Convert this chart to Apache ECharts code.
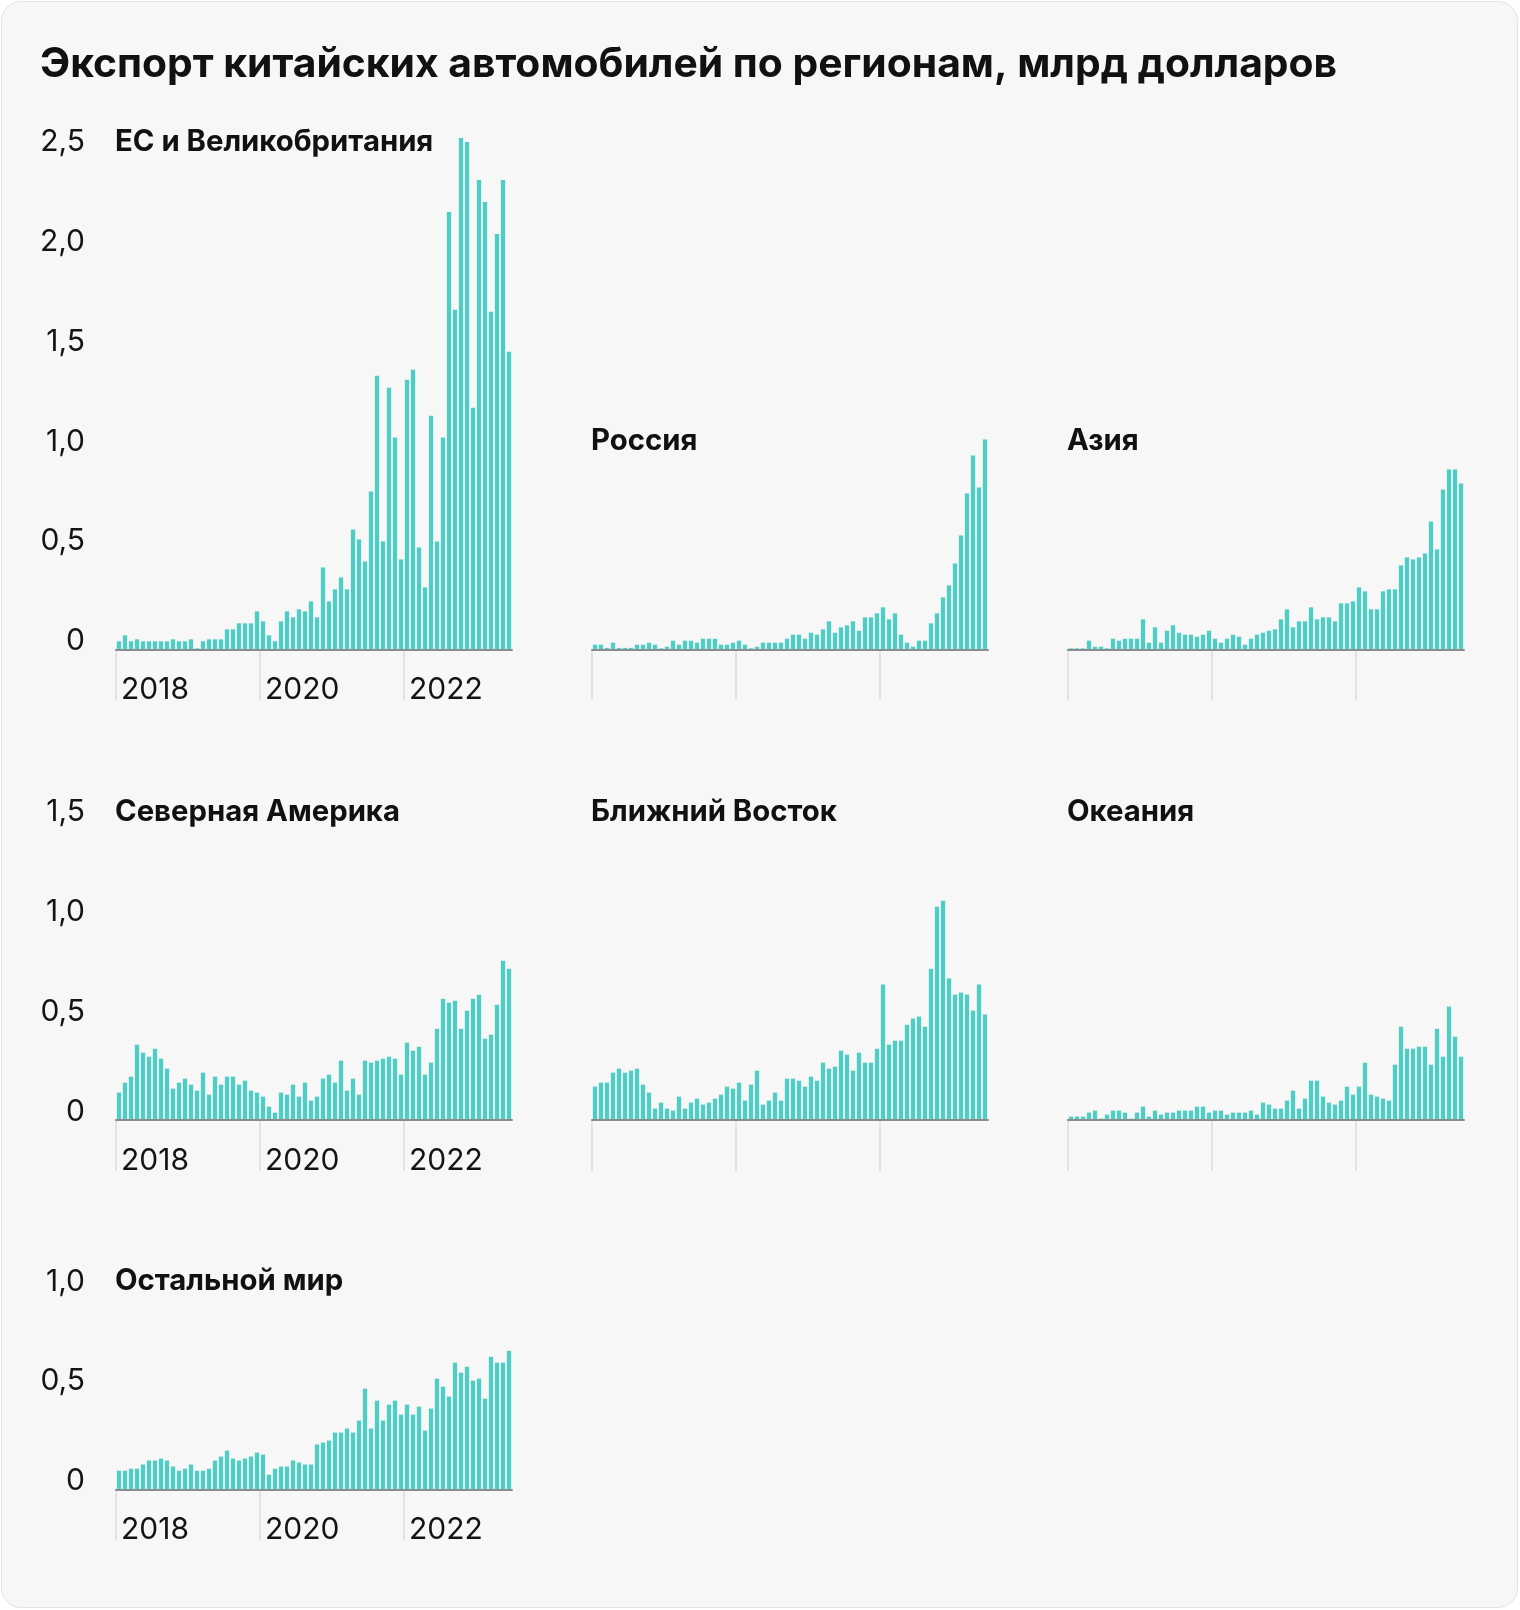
<!DOCTYPE html>
<html><head><meta charset="utf-8">
<script src="https://cdn.jsdelivr.net/npm/echarts@6/dist/echarts.min.js"></script>
<style>
html,body{margin:0;padding:0;background:#fff;}
#card{position:absolute;left:1px;top:1px;width:1515px;height:1605px;border:1.5px solid #e3e3e3;border-radius:20px;background:#f7f7f7;}
#chart{position:absolute;left:0;top:0;width:1520px;height:1610px;}
</style></head><body>
<div id="card"></div><div id="chart"></div>
<script>
// ---- DATA ----
const mainTitle = 'Экспорт китайских автомобилей по регионам, млрд долларов';
const months = [];
for (let y = 2018; y <= 2023; y++) for (let m = 1; m <= 12; m++) { if (y === 2023 && m > 6) break; months.push(y + '-' + String(m).padStart(2, '0')); }
const yearLabels = ['2018', '2020', '2022'];
const yearTickIdx = [0, 24, 48];

const panelNames = ['ЕС и Великобритания', 'Россия', 'Азия', 'Северная Америка', 'Ближний Восток', 'Океания', 'Остальной мир'];

const euUk = [0.04,0.07,0.04,0.05,0.04,0.04,0.04,0.04,0.04,0.05,0.04,0.04,0.05,0.005,0.04,0.05,0.05,0.05,0.10,0.10,0.13,0.13,0.13,0.19,
  0.14,0.07,0.04,0.14,0.19,0.16,0.20,0.19,0.24,0.16,0.41,0.24,0.30,0.36,0.30,0.60,0.55,0.44,0.79,1.37,0.54,1.31,1.06,0.45,
  1.35,1.40,0.51,0.31,1.17,0.54,1.06,2.19,1.70,2.56,2.54,1.21,2.35,2.24,1.69,2.08,2.35,1.49];
const russia = [0.023,0.023,0.007,0.033,0.007,0.007,0.007,0.023,0.023,0.033,0.023,0.005,0.013,0.043,0.023,0.043,0.043,0.033,0.053,0.053,0.053,0.023,0.023,0.033,
  0.043,0.023,0.005,0.013,0.033,0.033,0.033,0.033,0.053,0.073,0.073,0.053,0.083,0.073,0.10,0.14,0.083,0.11,0.12,0.14,0.093,0.16,0.16,0.18,
  0.21,0.15,0.18,0.073,0.033,0.013,0.043,0.043,0.13,0.18,0.26,0.32,0.43,0.57,0.78,0.97,0.81,1.05];
const asia = [0.005,0.005,0.005,0.043,0.013,0.013,0.005,0.053,0.043,0.053,0.053,0.053,0.15,0.033,0.11,0.033,0.093,0.12,0.083,0.073,0.073,0.063,0.073,0.093,
  0.053,0.033,0.053,0.073,0.063,0.023,0.053,0.073,0.083,0.093,0.10,0.15,0.20,0.11,0.14,0.14,0.21,0.15,0.16,0.16,0.14,0.23,0.23,0.24,
  0.31,0.29,0.20,0.20,0.29,0.30,0.30,0.42,0.46,0.45,0.46,0.48,0.64,0.50,0.80,0.90,0.90,0.83];
const northAmerica = [0.137,0.187,0.217,0.377,0.337,0.317,0.357,0.307,0.257,0.157,0.187,0.207,0.177,0.147,0.237,0.127,0.217,0.177,0.217,0.217,0.177,0.197,0.147,0.137,
  0.117,0.067,0.037,0.137,0.127,0.177,0.117,0.187,0.097,0.117,0.207,0.227,0.187,0.297,0.147,0.207,0.127,0.297,0.287,0.297,0.307,0.317,0.307,0.227,
  0.387,0.347,0.367,0.227,0.287,0.457,0.607,0.587,0.597,0.457,0.547,0.607,0.627,0.407,0.427,0.577,0.797,0.757];
const middleEast = [0.167,0.187,0.187,0.237,0.257,0.237,0.247,0.257,0.177,0.137,0.057,0.087,0.057,0.047,0.117,0.057,0.087,0.107,0.077,0.087,0.107,0.127,0.167,0.157,
  0.187,0.097,0.177,0.247,0.077,0.097,0.137,0.097,0.207,0.207,0.197,0.167,0.217,0.197,0.287,0.257,0.267,0.347,0.327,0.247,0.337,0.287,0.287,0.357,
  0.678,0.377,0.397,0.397,0.477,0.508,0.518,0.467,0.758,1.068,1.098,0.708,0.628,0.638,0.628,0.548,0.678,0.528];
const oceania = [0.017,0.017,0.017,0.037,0.047,0.007,0.027,0.047,0.047,0.037,0.007,0.037,0.067,0.017,0.047,0.027,0.037,0.037,0.047,0.047,0.047,0.067,0.067,0.037,
  0.047,0.047,0.027,0.037,0.037,0.037,0.047,0.027,0.087,0.077,0.057,0.057,0.097,0.147,0.057,0.107,0.197,0.197,0.117,0.087,0.077,0.097,0.167,0.127,
  0.167,0.287,0.127,0.117,0.107,0.097,0.277,0.467,0.357,0.357,0.367,0.367,0.277,0.457,0.317,0.568,0.417,0.317];
const restOfWorld = [0.093,0.093,0.103,0.103,0.124,0.144,0.144,0.154,0.144,0.114,0.093,0.103,0.124,0.093,0.093,0.103,0.144,0.164,0.194,0.154,0.144,0.154,0.164,0.184,
  0.174,0.073,0.103,0.114,0.114,0.144,0.134,0.124,0.124,0.224,0.234,0.244,0.284,0.284,0.304,0.284,0.344,0.504,0.304,0.444,0.344,0.424,0.444,0.374,
  0.424,0.374,0.414,0.294,0.404,0.554,0.514,0.464,0.634,0.584,0.614,0.544,0.554,0.454,0.664,0.634,0.634,0.694];

const seriesData = [euUk, russia, asia, northAmerica, middleEast, oceania, restOfWorld];
const rowMax = [2.5, 1.5, 1.0];
const yTickStep = 0.5;
const titleLevel = [2.5, 1.0, 1.0, 1.5, 1.5, 1.5, 1.0];

// ---- LAYOUT ----
const panelPos = [[0,0],[0,1],[0,2],[1,0],[1,1],[1,2],[2,0]];
const colLeft = [116, 592, 1068];
const plotW = 396;
const rowBase = [649.3, 1120, 1489.3];
const pxPerUnit = 199.7;
const barColor = '#4ecdc4';
const FONT = 'Inter, "Noto Sans", sans-serif';

const grids = [], xAxes = [], yAxes = [], series = [], graphics = [];
panelPos.forEach(([r, c], k) => {
  const h = rowMax[r] * pxPerUnit;
  grids.push({ left: colLeft[c], width: plotW, top: rowBase[r] - h, height: h, containLabel: false });
  xAxes.push({
    type: 'category', gridIndex: k, data: months, position: 'bottom',
    axisLine: { show: true, lineStyle: { color: '#8c8c8c', width: 2 } },
    axisTick: { show: false }, axisLabel: { show: false }, splitLine: { show: false }, z: 3
  });
  xAxes.push({
    type: 'value', gridIndex: k, min: 0, max: months.length, position: 'bottom',
    axisLine: { show: false }, splitLine: { show: false },
    axisTick: { show: true, customValues: yearTickIdx, length: 51, lineStyle: { color: '#dcdcdc', width: 1.5 } },
    axisLabel: {
      show: c === 0, customValues: yearTickIdx, align: 'left', padding: [0, 0, 0, 5], margin: 26,
      fontSize: 30, fontFamily: FONT, color: '#141414',
      formatter: v => yearLabels[yearTickIdx.indexOf(v)]
    }
  });
  yAxes.push({
    type: 'value', gridIndex: k, min: 0, max: rowMax[r], interval: yTickStep, show: c === 0,
    axisLine: { show: false }, axisTick: { show: false }, splitLine: { show: false },
    axisLabel: {
      show: c === 0, margin: 31, fontSize: 30, fontFamily: FONT, color: '#141414',
      verticalAlign: 'bottom', lineHeight: 16,
      formatter: v => v === 0 ? '0' : v.toFixed(1).replace('.', ',')
    }
  });
  series.push({
    type: 'bar', xAxisIndex: 2 * k, yAxisIndex: k, data: seriesData[k],
    barCategoryGap: '28%', clip: false,
    itemStyle: { color: barColor }, emphasis: { disabled: true }
  });
  graphics.push({
    type: 'text', x: colLeft[c] - 1, y: rowBase[r] - titleLevel[k] * pxPerUnit - 8,
    style: { text: panelNames[k], font: '700 29.3px ' + FONT, fill: '#111', align: 'left', verticalAlign: 'middle' }
  });
});
graphics.push({
  type: 'text', x: 40, y: 65,
  style: { text: mainTitle, font: '700 40.8px ' + FONT, fill: '#111', align: 'left', verticalAlign: 'middle' }
});

const chart = echarts.init(document.getElementById('chart'), null, { renderer: 'canvas' });
chart.setOption({
  animation: false,
  backgroundColor: 'transparent',
  grid: grids, xAxis: xAxes, yAxis: yAxes, series: series, graphic: graphics
});
</script>
</body></html>
